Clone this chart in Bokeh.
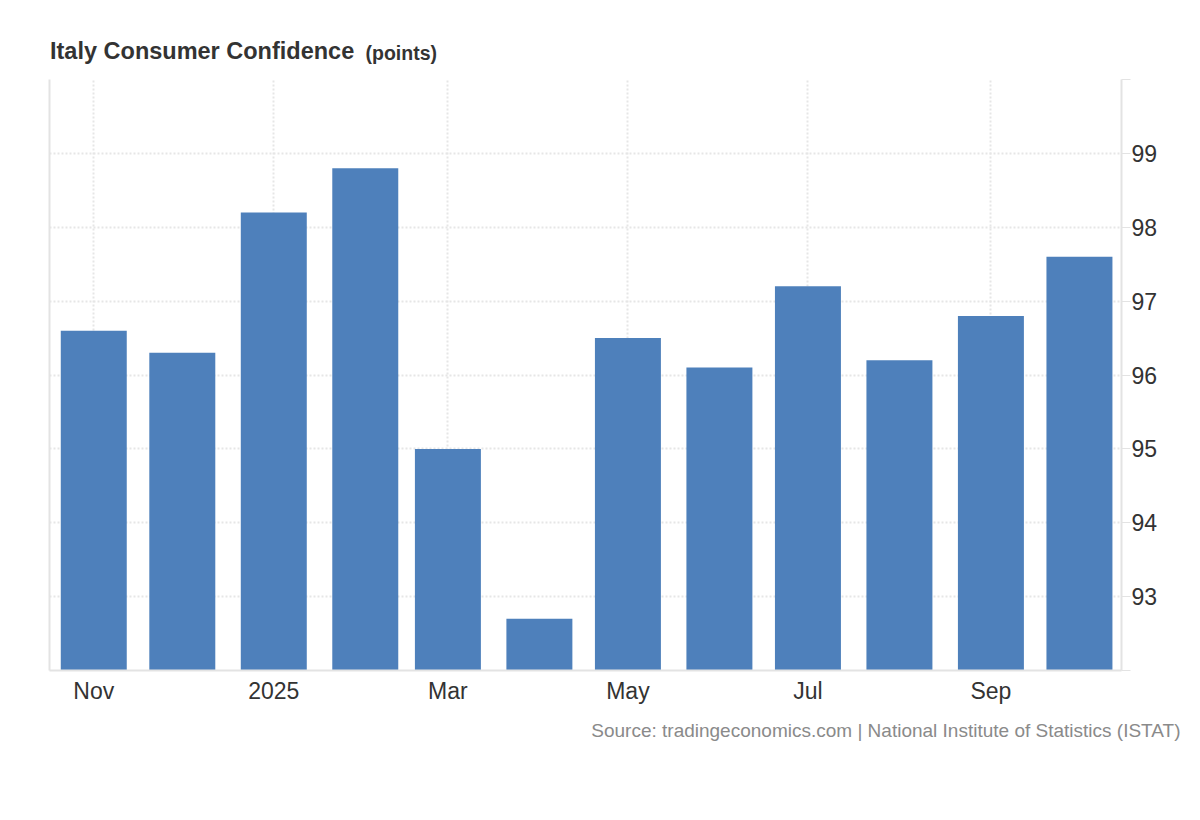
import pandas as pd
from bokeh.plotting import figure
from bokeh.layouts import column
from bokeh.models import Range1d, FixedTicker, LinearAxis, ColumnDataSource, Title
from bokeh.core.properties import value
from bokeh.embed import file_html
from bokeh.resources import INLINE

# ---- data ----
months = ["2024-11-01", "2024-12-01", "2025-01-01", "2025-02-01", "2025-03-01", "2025-04-01",
          "2025-05-01", "2025-06-01", "2025-07-01", "2025-08-01", "2025-09-01", "2025-10-01"]
values = [96.6, 96.3, 98.2, 98.8, 95.0, 92.7, 96.5, 96.1, 97.2, 96.2, 96.8, 97.6]
x_tick_dates = ["2024-11-01", "2025-01-01", "2025-03-01", "2025-05-01", "2025-07-01", "2025-09-01"]
x_tick_labels = ["Nov", "2025", "Mar", "May", "Jul", "Sep"]
y_ticks = [92, 93, 94, 95, 96, 97, 98, 99, 100]
y_tick_labels = ["", "93", "94", "95", "96", "97", "98", "99", ""]
title_text = "Italy Consumer Confidence"
unit_text = "(points)"
source_text = "Source: tradingeconomics.com | National Institute of Statistics (ISTAT)"

FONT = "Liberation Sans"
BAR = "#4e80bb"
GRID = "#e6e6e6"
AXIS = "#e3e3e3"
DAY_MS = 86400000
LEFT, FW, RIGHT = 49, 1072, 71

def ms(d):
    return pd.Timestamp(d).value // 10**6

# ---- header (same horizontal structure as the chart) ----
HH = 79
header = figure(frame_width=FW, frame_height=HH, output_backend="svg", toolbar_location=None,
                x_range=Range1d(LEFT, LEFT + FW), y_range=Range1d(HH, 0),
                x_axis_location=None, y_axis_location=None,
                min_border_left=LEFT, min_border_right=RIGHT, min_border_top=0, min_border_bottom=0)
header.outline_line_color = None
header.grid.visible = False
header.text(x=[49.5], y=[50], text=[title_text], text_font=value(FONT),
            text_font_size=value("23.5px"), text_font_style=value("bold"),
            text_color="#333333", text_baseline=value("alphabetic"))
header.text(x=[365], y=[52], text=[unit_text], text_font=value(FONT),
            text_font_size=value("19.5px"), text_font_style=value("bold"),
            text_color="#333333", text_baseline=value("alphabetic"))

# ---- main chart ----
x_start = ms("2024-10-17")
x_end = ms("2025-10-15") + DAY_MS // 4
src = ColumnDataSource(dict(x=[ms(m) for m in months], top=values))

p = figure(frame_width=FW, frame_height=591, output_backend="svg", toolbar_location=None,
           x_range=Range1d(x_start, x_end), y_range=Range1d(y_ticks[0], y_ticks[-1]),
           x_axis_type="datetime", y_axis_location="right",
           min_border_left=LEFT, min_border_right=RIGHT, min_border_top=0, min_border_bottom=100)
p.outline_line_color = None

p.vbar(x="x", top="top", bottom=y_ticks[0], width=22.36 * DAY_MS, source=src,
       fill_color=BAR, line_color=None)

xt = [ms(d) for d in x_tick_dates]
xa = p.xaxis[0]
xa.ticker = FixedTicker(ticks=xt)
xa.major_label_overrides = {t: l for t, l in zip(xt, x_tick_labels)}
xa.major_tick_out = 0
xa.major_tick_in = 0
xa.minor_tick_out = 0
xa.minor_tick_in = 0
xa.axis_line_color = AXIS
xa.axis_line_width = 2
xa.major_label_standoff = 7
xa.major_label_text_font = FONT
xa.major_label_text_font_size = "23px"
xa.major_label_text_color = "#333333"

ya = p.yaxis[0]
ya.ticker = FixedTicker(ticks=y_ticks)
ya.major_label_overrides = {t: l for t, l in zip(y_ticks, y_tick_labels)}
ya.major_tick_out = 9
ya.major_tick_in = 0
ya.minor_tick_out = 0
ya.minor_tick_in = 0
ya.major_tick_line_color = AXIS
ya.axis_line_color = AXIS
ya.axis_line_width = 2
ya.major_label_standoff = 1
ya.major_label_text_font = FONT
ya.major_label_text_font_size = "23px"
ya.major_label_text_color = "#333333"

la = LinearAxis(ticker=FixedTicker(ticks=[]), axis_line_color=AXIS, axis_line_width=2,
                major_tick_out=0, minor_tick_out=0, major_label_text_font_size="0px")
p.add_layout(la, "left")

p.xgrid.ticker = FixedTicker(ticks=xt)
p.ygrid.ticker = FixedTicker(ticks=y_ticks)
for g in (p.xgrid[0], p.ygrid[0]):
    g.grid_line_color = GRID
    g.grid_line_dash = "2 2"
    g.grid_line_width = 2

# source line as a title below the chart
p.add_layout(Title(text=source_text, align="right", offset=-59, standoff=22,
                   text_font=FONT, text_font_size="19px", text_font_style="normal",
                   text_color="#8a8a8a"), "below")

layout = column(header, p, spacing=0)
open("out.html", "w").write(file_html(layout, INLINE))
